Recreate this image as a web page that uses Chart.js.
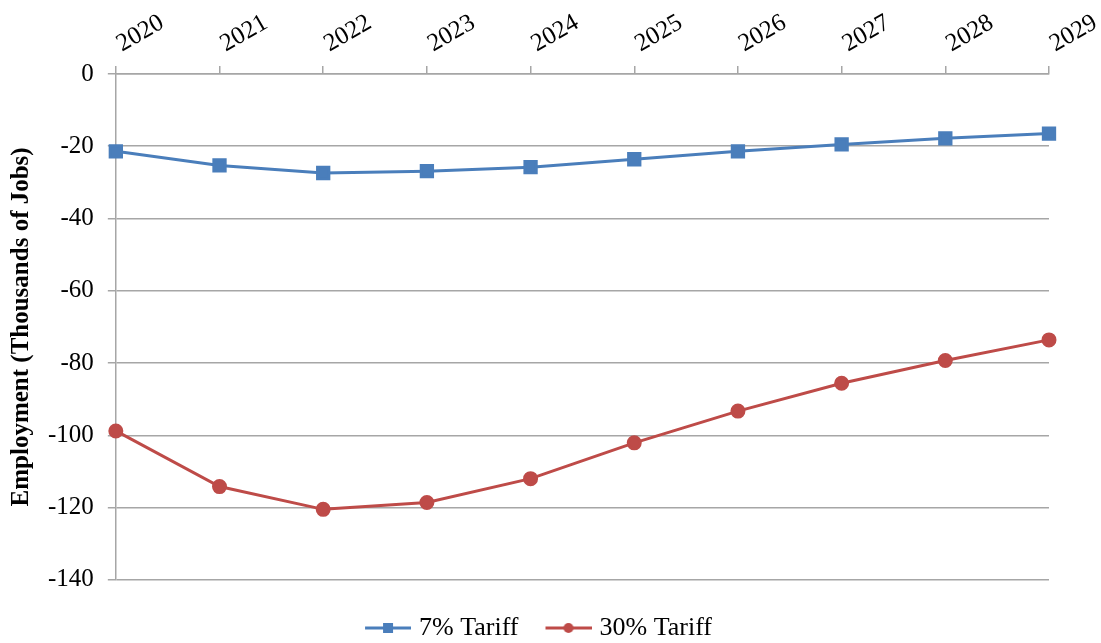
<!DOCTYPE html>
<html>
<head>
<meta charset="utf-8">
<script src="https://cdn.jsdelivr.net/npm/chart.js@4/dist/chart.umd.min.js"></script>
<style>
  html, body { margin: 0; padding: 0; background: #fff; }
  #wrap { width: 1101px; height: 643px; position: relative; }
</style>
</head>
<body>
<div id="wrap"><canvas id="jobs"></canvas></div>
<script>
const years = ["2020", "2021", "2022", "2023", "2024", "2025", "2026", "2027", "2028", "2029"];
const tariff7 = [-21.4, -25.3, -27.4, -26.9, -25.8, -23.6, -21.4, -19.5, -17.8, -16.5];
const tariff30 = [-98.8, -114.2, -120.5, -118.6, -112.0, -102.1, -93.3, -85.6, -79.3, -73.6];

const BLUE = "#4a7ebb";
const RED = "#be4b48";
const GRID = "#a6a6a6";
const SERIF = "'Liberation Serif', 'Times New Roman', serif";

// legend swatch: line with the series marker, drawn at the right end of a
// wider canvas so it sits close to the label text
const SW_W = 70;
const SW_LINE = 46;
function swatch(color, shape) {
  const c = document.createElement("canvas");
  c.width = SW_W;
  c.height = 14;
  const g = c.getContext("2d");
  const x0 = SW_W - SW_LINE;
  g.strokeStyle = color;
  g.lineWidth = 3;
  g.beginPath();
  g.moveTo(x0, 7);
  g.lineTo(SW_W, 7);
  g.stroke();
  g.fillStyle = color;
  const cx = x0 + SW_LINE / 2;
  if (shape === "rect") {
    g.fillRect(cx - 5, 2, 10, 10);
  } else {
    g.beginPath();
    g.arc(cx, 7, 5, 0, Math.PI * 2);
    g.fill();
  }
  return c;
}

const legendIcons = [swatch(BLUE, "rect"), swatch(RED, "circle")];

new Chart(document.getElementById("jobs"), {
  type: "line",
  data: {
    labels: years,
    datasets: [
      {
        label: "7% Tariff",
        data: tariff7,
        borderColor: BLUE,
        backgroundColor: BLUE,
        borderWidth: 3,
        pointStyle: "rect",
        pointRadius: 8,
        pointHoverRadius: 8,
        tension: 0,
      },
      {
        label: "30% Tariff",
        data: tariff30,
        borderColor: RED,
        backgroundColor: RED,
        borderWidth: 3,
        pointStyle: "circle",
        pointRadius: 6,
        pointHoverRadius: 6,
        tension: 0,
      },
    ],
  },
  options: {
    responsive: true,
    maintainAspectRatio: false,
    animation: false,
    layout: { padding: { left: 9, right: 52, top: 1, bottom: -8 } },
    plugins: {
      tooltip: { enabled: false },
      legend: {
        position: "bottom",
        title: { display: true, text: "", font: { size: 1 }, padding: { top: 26, bottom: 0 } },
        labels: {
          color: "#000",
          font: { family: SERIF, size: 26 },
          usePointStyle: true,
          pointStyleWidth: SW_W - 10,
          padding: 8,
          generateLabels: (chart) =>
            chart.data.datasets.map((ds, i) => ({
              text: ds.label,
              datasetIndex: i,
              pointStyle: legendIcons[i],
              fillStyle: ds.borderColor,
              strokeStyle: ds.borderColor,
              lineWidth: 0,
              fontColor: "#000",
            })),
        },
      },
    },
    scales: {
      x: {
        position: "top",
        offset: false,
        border: { display: true, color: GRID, width: 1.5 },
        grid: { display: true, drawOnChartArea: false, drawTicks: true, tickLength: 8, color: GRID, lineWidth: 1.5 },
        ticks: {
          color: "#000",
          font: { family: SERIF, size: 25 },
          minRotation: 30,
          maxRotation: 30,
          padding: 7,
          labelOffset: 18,
          autoSkip: false,
        },
      },
      y: {
        min: -140,
        max: 0,
        border: { display: true, color: GRID, width: 1.5 },
        grid: { color: GRID, lineWidth: 1.5, tickLength: 8 },
        ticks: {
          stepSize: 20,
          color: "#000",
          font: { family: SERIF, size: 25 },
          padding: 14,
        },
        title: {
          display: true,
          text: "Employment (Thousands of Jobs)",
          color: "#000",
          font: { family: SERIF, size: 25, weight: "bold", lineHeight: 1 },
          padding: 0,
        },
      },
    },
  },
});
</script>
</body>
</html>
